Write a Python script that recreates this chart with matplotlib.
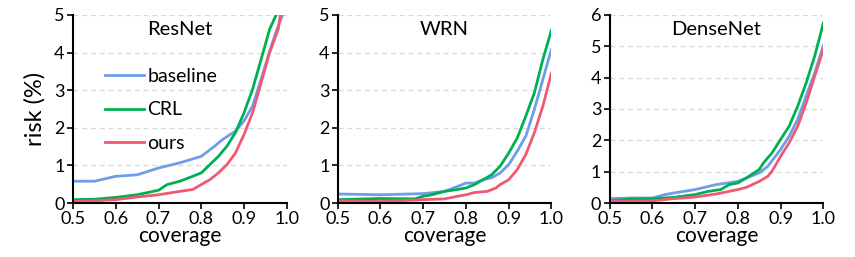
import matplotlib
matplotlib.use('Agg')
import matplotlib.pyplot as plt

plt.rcParams['font.family'] = ['Lato', 'DejaVu Sans']

# ResNet
res_cov_base = [0.5, 0.55, 0.6, 0.65, 0.7, 0.75, 0.8, 0.83, 0.85, 0.88, 0.9, 0.92, 0.94, 0.96, 0.975, 0.99]
res_base = [0.58, 0.58, 0.71, 0.75, 0.93, 1.07, 1.24, 1.5, 1.69, 1.91, 2.18, 2.58, 3.29, 4.04, 4.55, 5.0]
res_cov_crl = [0.5, 0.55, 0.6, 0.65, 0.7, 0.72, 0.75, 0.78, 0.8, 0.82, 0.84, 0.86, 0.88, 0.9, 0.92, 0.94, 0.96, 0.975]
res_crl = [0.09, 0.1, 0.15, 0.22, 0.34, 0.49, 0.58, 0.71, 0.8, 1.02, 1.24, 1.51, 1.87, 2.4, 3.02, 3.82, 4.62, 5.0]
res_cov_ours = [0.5, 0.55, 0.6, 0.65, 0.7, 0.75, 0.78, 0.8, 0.82, 0.84, 0.86, 0.88, 0.9, 0.92, 0.94, 0.96, 0.98, 0.985]
res_ours = [0.04, 0.06, 0.09, 0.16, 0.22, 0.31, 0.36, 0.49, 0.62, 0.8, 1.02, 1.33, 1.82, 2.4, 3.2, 4.0, 4.62, 5.0]

# WRN
wrn_cov_base = [0.5, 0.6, 0.7, 0.75, 0.78, 0.8, 0.82, 0.84, 0.86, 0.88, 0.9, 0.92, 0.94, 0.96, 0.98, 1.0]
wrn_base = [0.24, 0.22, 0.25, 0.31, 0.44, 0.53, 0.53, 0.62, 0.67, 0.8, 1.02, 1.38, 1.78, 2.49, 3.29, 4.09]
wrn_cov_crl = [0.5, 0.6, 0.68, 0.7, 0.72, 0.75, 0.78, 0.8, 0.82, 0.84, 0.86, 0.88, 0.9, 0.92, 0.94, 0.96, 0.98, 1.0]
wrn_crl = [0.09, 0.12, 0.11, 0.18, 0.22, 0.31, 0.36, 0.4, 0.49, 0.62, 0.75, 0.98, 1.33, 1.73, 2.31, 2.93, 3.82, 4.6]
wrn_cov_ours = [0.5, 0.6, 0.7, 0.75, 0.78, 0.8, 0.82, 0.85, 0.87, 0.88, 0.9, 0.92, 0.94, 0.96, 0.98, 1.0]
wrn_ours = [0.06, 0.04, 0.09, 0.11, 0.18, 0.22, 0.28, 0.31, 0.4, 0.49, 0.62, 0.89, 1.29, 1.87, 2.58, 3.46]

# DenseNet
dn_cov_base = [0.5, 0.55, 0.6, 0.63, 0.65, 0.7, 0.75, 0.8, 0.82, 0.85, 0.87, 0.9, 0.92, 0.94, 0.96, 0.98, 1.0]
dn_base = [0.14, 0.16, 0.16, 0.27, 0.32, 0.43, 0.59, 0.69, 0.8, 0.96, 1.17, 1.71, 2.13, 2.67, 3.42, 4.16, 5.02]
dn_cov_crl = [0.5, 0.55, 0.6, 0.65, 0.7, 0.73, 0.76, 0.78, 0.8, 0.82, 0.85, 0.86, 0.88, 0.9, 0.92, 0.94, 0.96, 0.98, 1.0]
dn_crl = [0.07, 0.13, 0.14, 0.18, 0.27, 0.37, 0.43, 0.59, 0.64, 0.8, 1.07, 1.28, 1.6, 2.03, 2.45, 3.09, 3.84, 4.7, 5.74]
dn_cov_ours = [0.5, 0.6, 0.65, 0.7, 0.75, 0.8, 0.82, 0.85, 0.87, 0.88, 0.9, 0.92, 0.94, 0.96, 0.98, 1.0]
dn_ours = [0.05, 0.07, 0.14, 0.19, 0.29, 0.43, 0.5, 0.69, 0.85, 1.02, 1.49, 1.92, 2.45, 3.2, 4.06, 4.9]

panels = [
    ('ResNet', 5, (res_cov_base, res_base), (res_cov_crl, res_crl), (res_cov_ours, res_ours)),
    ('WRN', 5, (wrn_cov_base, wrn_base), (wrn_cov_crl, wrn_crl), (wrn_cov_ours, wrn_ours)),
    ('DenseNet', 6, (dn_cov_base, dn_base), (dn_cov_crl, dn_crl), (dn_cov_ours, dn_ours)),
]

colors = {'baseline': '#6D9EEB', 'CRL': '#00B050', 'ours': '#EE5A73'}
lefts = [0.0854, 0.395, 0.713]

fig = plt.figure(figsize=(8.55, 2.57), dpi=100)

for i, (name, ymax, base, crl, ours) in enumerate(panels):
    ax = fig.add_axes([lefts[i], 0.21, 0.25, 0.732])
    ax.plot(*base, color=colors['baseline'], lw=2, label='baseline')
    ax.plot(*crl, color=colors['CRL'], lw=2, label='CRL')
    ax.plot(*ours, color=colors['ours'], lw=2, label='ours')
    ax.set_xlim(0.5, 1.0)
    ax.set_ylim(0, ymax)
    ax.set_xticks([0.5, 0.6, 0.7, 0.8, 0.9, 1.0])
    ax.set_xticklabels(['0.5', '0.6', '0.7', '0.8', '0.9', '1.0'])
    ax.set_yticks(range(ymax + 1))
    ax.tick_params(labelsize=13, length=4, width=1.2, pad=2)
    ax.grid(True, axis='y', color='#d9d9d9', linestyle=(0, (4, 3)), lw=0.9)
    ax.set_axisbelow(True)
    for s in ['top', 'right']:
        ax.spines[s].set_visible(False)
    for s in ['left', 'bottom']:
        ax.spines[s].set_linewidth(1.5)
    ax.set_xlabel('coverage', fontsize=15, labelpad=-1)
    ax.text(0.5, 0.92, name, transform=ax.transAxes, ha='center', va='center', fontsize=14.5)
    if i == 0:
        ax.set_ylabel('risk (%)', fontsize=17, labelpad=6)
        ax.legend(loc='upper left', bbox_to_anchor=(0.07, 0.81), frameon=False,
                  fontsize=14, handlelength=2.0, handletextpad=0.15, labelspacing=0.84)

plt.savefig('out.png', dpi=100)
plt.close()
